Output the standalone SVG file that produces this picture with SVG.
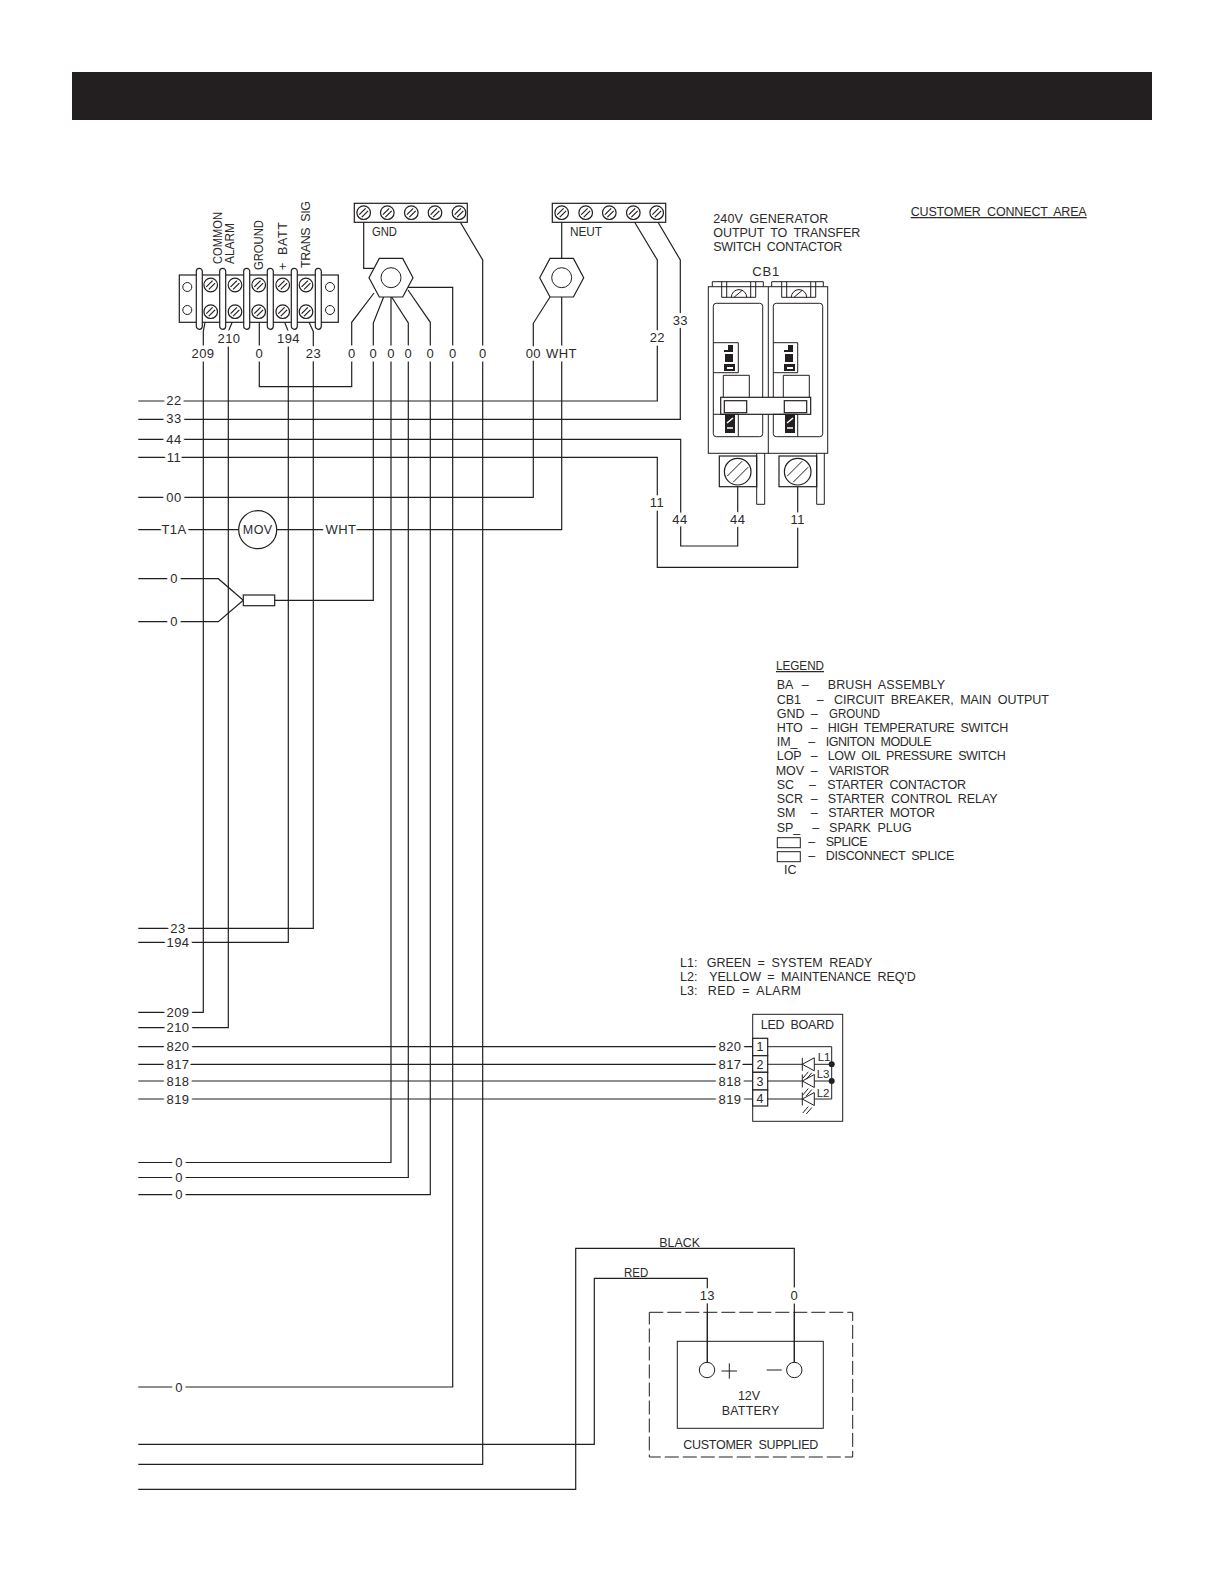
<svg xmlns="http://www.w3.org/2000/svg" width="1224" height="1584" viewBox="0 0 1224 1584">
<style>
text{font-family:"Liberation Sans",Arial,sans-serif;font-size:12.5px;fill:#2a2a2a;word-spacing:3px;}
.w{fill:none;stroke:#231f20;stroke-width:1.2;}
.t{fill:none;stroke:#231f20;stroke-width:1;}
.wh{fill:#fff;stroke:#231f20;stroke-width:1.2;}
.k{fill:#231f20;stroke:none;}
.l{text-anchor:middle;font-size:13px;letter-spacing:.4px;word-spacing:0;paint-order:stroke;stroke:#fff;stroke-width:7px;stroke-linejoin:round;}
.s{font-size:11.5px;}
</style>
<defs>
<g id="screw"><circle r="6.8" class="wh"/><path d="M-4.4 1.900L1.900-4.400M-1.900 4.400L4.400-1.900" fill="none" stroke="#231f20" stroke-width="1.200"/></g>
<g id="bigscrew"><circle r="13.3" class="wh"/><path d="M-10.5 4.500L4.500-10.500M-4.500 10.500L10.500-4.500" class="t"/></g>
<g id="diode"><path d="M0-6.500V6.500M0 0L12-6.500V6.500Z" class="t"/><path d="M6 7.500L0.500 14M9.500 8.500L4 15" class="t"/></g>
<polygon id="hex" points="-22,0 -11.700,-19.300 11.700,-19.300 22,0 11.700,19.300 -11.700,19.300" class="wh"/>
<rect id="bar" x="-3" y="-30.500" width="6" height="61" rx="3" class="wh"/>
</defs>
<rect width="1224" height="1584" fill="#fff"/>
<rect id="header" x="72" y="72" width="1080" height="48" fill="#231f20"/>

<g id="connectors">
<path class="w" d="M210 295L203.300 331.500V1012.300H138.300"/>
<path class="w" d="M234 318L228.300 331.500V1027.700H138.300"/>
<path class="w" d="M259.300 315V386.700H351.700V322.300L374 293"/>
<path class="w" d="M283 318L288.300 331.500V942.300H138.300"/>
<path class="w" d="M307 318L313.300 331.500V928.300H138.300"/>
<path class="w" d="M363.700 220V268.300H375"/>
<path class="w" d="M459 220L482.700 260V1464.300H138.300"/>
<path class="w" d="M408 287.300H452.700V1387H138.300"/>
<path class="w" d="M384 296L373.300 323V600.300H274.700"/>
<path class="w" d="M391 296V1162.500H138.300"/>
<path class="w" d="M391 296L408.300 323V1177.500H138.300"/>
<path class="w" d="M408 290L430.300 322.300V1194.600H138.300"/>
<path class="w" d="M561.700 222V258.400M561.700 297V529.700H276.700M238.700 529.700H138.300"/>
<path class="w" d="M550 297L533.300 323.300V497.300H138.300"/>
<path class="w" d="M633.300 220L657.300 260V401H138.300"/>
<path class="w" d="M656.700 220L680.300 260V419.300H138.300"/>
<path class="w" d="M138.300 439.300H680.700V546H737.700V486.700"/>
<path class="w" d="M138.300 457.300H657.300V567.300H797.700V486.700"/>
<path class="w" d="M138.300 578.700H218.300L243.300 600.300L218.300 621.700H138.300"/>
<path class="w" d="M138.300 1046.700H752.700M138.300 1064.300H752.700M138.300 1081H752.700M138.300 1099H752.700"/>
<path class="w" d="M138.300 1444.300H594.300V1278.300H707.300V1362.300"/>
<path class="w" d="M138.300 1489.300H575.700V1248.300H794.300V1362.300"/>
</g>

<g id="wire-labels">
<text class="l" x="203" y="358">209</text><text class="l" x="229" y="343">210</text><text class="l" x="259.300" y="358">0</text><text class="l" x="288.500" y="343">194</text><text class="l" x="313.500" y="358">23</text>
<text class="l" x="351.700" y="358">0</text><text class="l" x="373.300" y="358">0</text><text class="l" x="391" y="358">0</text><text class="l" x="408.300" y="358">0</text><text class="l" x="430.300" y="358">0</text><text class="l" x="452.700" y="358">0</text><text class="l" x="482.700" y="358">0</text>
<text class="l" x="533.300" y="358">00</text><text class="l" x="561.500" y="358">WHT</text><text class="l" x="657.300" y="342">22</text><text class="l" x="680.300" y="325">33</text>
<text class="l" x="174" y="405">22</text><text class="l" x="174" y="423">33</text><text class="l" x="174" y="444">44</text><text class="l" x="174" y="462">11</text><text class="l" x="174" y="502">00</text><text class="l" x="174" y="534">T1A</text><text class="l" x="341" y="534">WHT</text>
<text class="l" x="174" y="583">0</text><text class="l" x="174" y="626">0</text>
<text class="l" x="657" y="507">11</text><text class="l" x="680" y="524">44</text><text class="l" x="737.700" y="524">44</text><text class="l" x="797.700" y="524">11</text>
<text class="l" x="178" y="932.500">23</text><text class="l" x="178" y="946.500">194</text><text class="l" x="178" y="1016.500">209</text><text class="l" x="178" y="1032">210</text><text class="l" x="178" y="1051">820</text><text class="l" x="178" y="1069">817</text><text class="l" x="178" y="1085.500">818</text><text class="l" x="178" y="1103.500">819</text>
<text class="l" x="179" y="1167">0</text><text class="l" x="179" y="1182">0</text><text class="l" x="179" y="1199">0</text><text class="l" x="179" y="1392">0</text>
<text class="l" x="730" y="1051">820</text><text class="l" x="730" y="1069">817</text><text class="l" x="730" y="1085.500">818</text><text class="l" x="730" y="1103.500">819</text>
<text class="l" x="707.300" y="1300">13</text><text class="l" x="794.300" y="1300">0</text>
<text x="659.300" y="1247" textLength="40.700" lengthAdjust="spacingAndGlyphs">BLACK</text>
<text x="624" y="1277" textLength="24.300" lengthAdjust="spacingAndGlyphs">RED</text>
</g>

<g id="terminal-strip">
<rect x="179.300" y="275" width="159" height="47.300" class="wh"/>
<use href="#bar" x="199.300" y="298.800"/><use href="#bar" x="222.700" y="298.800"/><use href="#bar" x="246.700" y="298.800"/><use href="#bar" x="270.300" y="298.800"/><use href="#bar" x="294.300" y="298.800"/><use href="#bar" x="318.300" y="298.800"/>
<circle cx="187.300" cy="287" r="4.500" class="t"/><circle cx="187.300" cy="310" r="4.500" class="t"/><circle cx="330" cy="287" r="4.500" class="t"/><circle cx="330" cy="310" r="4.500" class="t"/>
<use href="#screw" x="210.700" y="285"/><use href="#screw" x="235" y="285"/><use href="#screw" x="258.700" y="285"/><use href="#screw" x="282.700" y="285"/><use href="#screw" x="306" y="285"/>
<use href="#screw" x="210.700" y="311.700"/><use href="#screw" x="235" y="311.700"/><use href="#screw" x="258.700" y="311.700"/><use href="#screw" x="282.700" y="311.700"/><use href="#screw" x="306" y="311.700"/>
<text transform="translate(222.300 264) rotate(-90)" textLength="52" lengthAdjust="spacingAndGlyphs">COMMON</text>
<text transform="translate(233.500 264) rotate(-90)" textLength="41" lengthAdjust="spacingAndGlyphs">ALARM</text>
<text transform="translate(263.300 270) rotate(-90)" textLength="50" lengthAdjust="spacingAndGlyphs">GROUND</text>
<text transform="translate(287 270) rotate(-90)" textLength="48" lengthAdjust="spacing">+ BATT</text>
<text transform="translate(310 268) rotate(-90)" textLength="67" lengthAdjust="spacing">TRANS SIG</text>
</g>

<g id="gnd-block">
<rect x="354.300" y="203.300" width="113" height="19" class="wh"/>
<use href="#screw" x="363.700" y="212.700"/><use href="#screw" x="387.300" y="212.700"/><use href="#screw" x="411.300" y="212.700"/><use href="#screw" x="435" y="212.700"/><use href="#screw" x="459" y="212.700"/>
<text x="372" y="235.500" textLength="25" lengthAdjust="spacingAndGlyphs">GND</text>
</g>
<g id="gnd-nut"><use href="#hex" x="391" y="277.700"/><circle cx="391" cy="277.700" r="10" class="t"/></g>
<g id="neut-block">
<rect x="552.300" y="203.300" width="113.400" height="19" class="wh"/>
<use href="#screw" x="561.700" y="212.700"/><use href="#screw" x="585.700" y="212.700"/><use href="#screw" x="609.300" y="212.700"/><use href="#screw" x="633.300" y="212.700"/><use href="#screw" x="656.700" y="212.700"/>
<text x="570" y="235.500" textLength="32" lengthAdjust="spacingAndGlyphs">NEUT</text>
</g>
<g id="neut-nut"><use href="#hex" x="561.700" y="277.700"/><circle cx="561.700" cy="277.700" r="10" class="t"/></g>

<g id="generator-note">
<text x="713.300" y="222.500" textLength="115" lengthAdjust="spacing">240V GENERATOR</text>
<text x="713.300" y="236.800" textLength="147" lengthAdjust="spacing">OUTPUT TO TRANSFER</text>
<text x="713.300" y="251" textLength="129" lengthAdjust="spacing">SWITCH CONTACTOR</text>
</g>
<text id="customer-connect" x="910.700" y="216" textLength="176" lengthAdjust="spacing" text-decoration="underline">CUSTOMER CONNECT AREA</text>

<g id="cb1">
<text x="752.300" y="276" textLength="27" lengthAdjust="spacing" style="font-size:13px">CB1</text>
<path class="t" d="M712.300 286.700V281.700H763.300V286.700M771.700 286.700V281.700H823.300V286.700"/>
<rect x="708.300" y="286.700" width="119.400" height="166.600" class="t"/>
<path class="t" d="M768.300 286.700V453.300"/>
<path class="t" d="M721.700 281.700V297.300H755.700V281.700M781.700 281.700V297.300H815.700V281.700M726.700 281.700V297.300M750.700 281.700V297.300M786.700 281.700V297.300M810.700 281.700V297.300"/>
<path class="t" d="M731.300 297.300A7.700 7.700 0 0 1 746.700 297.300M734 297.300L742 290.500M791.300 297.300A7.700 7.700 0 0 1 806.700 297.300M794 297.300L802 290.500"/>
<rect x="713.300" y="303.300" width="49.400" height="133.400" rx="3" class="t"/>
<rect x="773.300" y="303.300" width="49.400" height="133.400" rx="3" class="t"/>
<path class="t" d="M713.300 342.700H738.300V372.700H713.300M773.300 342.700H797.700V372.700H773.300"/>
<path class="k" d="M728 345H733V352H724V350H728ZM725 354H733V362H725ZM724 364H735V371H724ZM788 345H793V352H784V350H788ZM785 354H793V362H785ZM784 364H795V371H784Z"/>
<rect x="727" y="367" width="6" height="2" fill="#fff"/><rect x="787" y="367" width="6" height="2" fill="#fff"/>
<path class="t" d="M723.300 397.300V375.300H749.300V397.300M783.300 397.300V375.300H809.300V397.300"/>
<rect x="720.700" y="397.300" width="90" height="17" class="wh"/>
<rect x="724.300" y="400.700" width="22.400" height="12" class="wh"/><rect x="784.300" y="400.700" width="22.400" height="12" class="wh"/>
<path class="t" d="M713.300 414.300H738.300V436.700M773.300 414.300H797.700V436.700"/>
<path class="k" d="M725 415H735V433H725ZM785 415H795V433H785Z"/>
<path d="M727 423L733 418M727 428H733M787 423L793 418M787 428H793" stroke="#fff" stroke-width="1.500" fill="none"/>
<rect x="719.300" y="456" width="37.400" height="30.700" class="wh"/><rect x="779" y="456" width="37.700" height="30.700" class="wh"/>
<use href="#bigscrew" x="737.700" y="471.700"/><use href="#bigscrew" x="797.700" y="471.700"/>
<path class="t" d="M756.700 453.300V504.300H764.700V453.300M816.700 453.300V504.300H824.300V453.300"/>
</g>

<g id="mov"><circle cx="257.700" cy="529.700" r="19" class="wh"/><text x="257.700" y="534" text-anchor="middle" style="font-size:12.500px;letter-spacing:.4px">MOV</text></g>
<rect id="splice" x="243.300" y="595" width="31.400" height="10.700" class="wh"/>

<g id="legend">
<text x="776" y="670" textLength="48" lengthAdjust="spacingAndGlyphs" text-decoration="underline">LEGEND</text>
<text x="776.700" y="689.300">BA<tspan x="801.700">–</tspan></text><text x="827.700" y="689.300" textLength="117.300" lengthAdjust="spacing">BRUSH ASSEMBLY</text>
<text x="776.700" y="703.700">CB1<tspan x="816.700">–</tspan></text><text x="834" y="703.700" textLength="215" lengthAdjust="spacing">CIRCUIT BREAKER, MAIN OUTPUT</text>
<text x="776.700" y="717.700">GND<tspan x="810.700">–</tspan></text><text x="829" y="717.700" textLength="51" lengthAdjust="spacingAndGlyphs">GROUND</text>
<text x="776.700" y="731.700">HTO<tspan x="810.700">–</tspan></text><text x="827.700" y="731.700" textLength="180.600" lengthAdjust="spacing">HIGH TEMPERATURE SWITCH</text>
<text x="776.700" y="746">IM_<tspan x="808.300">–</tspan></text><text x="825.700" y="746" textLength="106" lengthAdjust="spacing">IGNITON MODULE</text>
<text x="776.700" y="760">LOP<tspan x="810.700">–</tspan></text><text x="827.700" y="760" textLength="178" lengthAdjust="spacing">LOW OIL PRESSURE SWITCH</text>
<text x="775.700" y="775">MOV<tspan x="810.700">–</tspan></text><text x="829" y="775" textLength="60.300" lengthAdjust="spacing">VARISTOR</text>
<text x="776.700" y="789">SC<tspan x="809">–</tspan></text><text x="827.300" y="789" textLength="138.700" lengthAdjust="spacing">STARTER CONTACTOR</text>
<text x="776.700" y="803">SCR<tspan x="810.700">–</tspan></text><text x="827.700" y="803" textLength="170" lengthAdjust="spacing">STARTER CONTROL RELAY</text>
<text x="776.700" y="817">SM<tspan x="810.700">–</tspan></text><text x="828.300" y="817" textLength="106.700" lengthAdjust="spacing">STARTER MOTOR</text>
<text x="776.700" y="831.700">SP_<tspan x="812.300">–</tspan></text><text x="829" y="831.700" textLength="82.700" lengthAdjust="spacing">SPARK PLUG</text>
<rect x="777.300" y="837.700" width="23" height="10" class="t"/><text x="808.300" y="846">–</text><text x="825.700" y="846" textLength="42" lengthAdjust="spacing">SPLICE</text>
<rect x="777.300" y="851.700" width="23" height="10" class="t"/><text x="808.300" y="860">–</text><text x="825.700" y="860" textLength="128.600" lengthAdjust="spacing">DISCONNECT SPLICE</text>
<text x="784" y="874">IC</text>
</g>

<g id="led-note">
<text x="680" y="966.700">L1:</text><text x="706.700" y="966.700" textLength="165.600" lengthAdjust="spacing">GREEN = SYSTEM READY</text>
<text x="680" y="980.700">L2:</text><text x="709.300" y="980.700" textLength="206.400" lengthAdjust="spacing">YELLOW = MAINTENANCE REQ'D</text>
<text x="680" y="995">L3:</text><text x="707.700" y="995" textLength="93.300" lengthAdjust="spacing">RED = ALARM</text>
</g>

<g id="led-board">
<rect x="752.700" y="1014.300" width="90" height="107" class="t"/>
<text x="760.700" y="1029.300" textLength="73.300" lengthAdjust="spacing">LED BOARD</text>
<rect x="752.700" y="1038.300" width="15" height="17.400" class="wh"/><rect x="752.700" y="1055.700" width="15" height="16.600" class="wh"/><rect x="752.700" y="1072.300" width="15" height="17.700" class="wh"/><rect x="752.700" y="1090" width="15" height="16" class="wh"/>
<text x="760" y="1051" text-anchor="middle">1</text><text x="760" y="1068.500" text-anchor="middle">2</text><text x="760" y="1085.500" text-anchor="middle">3</text><text x="760" y="1103" text-anchor="middle">4</text>
<path class="t" d="M767.700 1046.700H831.700V1099H814.300M767.700 1064.300H802.300M814.300 1064.300H831.700M767.700 1081H802.300M814.300 1081H831.700M767.700 1099H802.300"/>
<use href="#diode" x="802.300" y="1064.300"/><use href="#diode" x="802.300" y="1081"/><use href="#diode" x="802.300" y="1099"/>
<circle cx="831.700" cy="1064.300" r="3" class="k"/><circle cx="831.700" cy="1081" r="3" class="k"/>
<text class="s" x="817.700" y="1060.700">L1</text><text class="s" x="816.700" y="1078.300">L3</text><text class="s" x="816.700" y="1096.700">L2</text>
</g>

<g id="battery">
<rect x="649.300" y="1312.300" width="203.400" height="144.700" class="t" stroke-dasharray="14 4"/>
<rect x="677.300" y="1341.300" width="146" height="87" class="t"/>
<path class="t" d="M707.300 1312.300V1362.300M794.300 1312.300V1362.300"/>
<circle cx="707" cy="1370" r="7.700" class="t"/><circle cx="794.300" cy="1370" r="7.700" class="t"/>
<path class="t" d="M721.600 1371H737M729.300 1363.300V1378.700M766.700 1370H781.700"/>
<text x="749" y="1400" text-anchor="middle">12V</text>
<text x="721.700" y="1415" textLength="57.700" lengthAdjust="spacing">BATTERY</text>
<text x="683.300" y="1449" textLength="135" lengthAdjust="spacing">CUSTOMER SUPPLIED</text>
</g>
</svg>
